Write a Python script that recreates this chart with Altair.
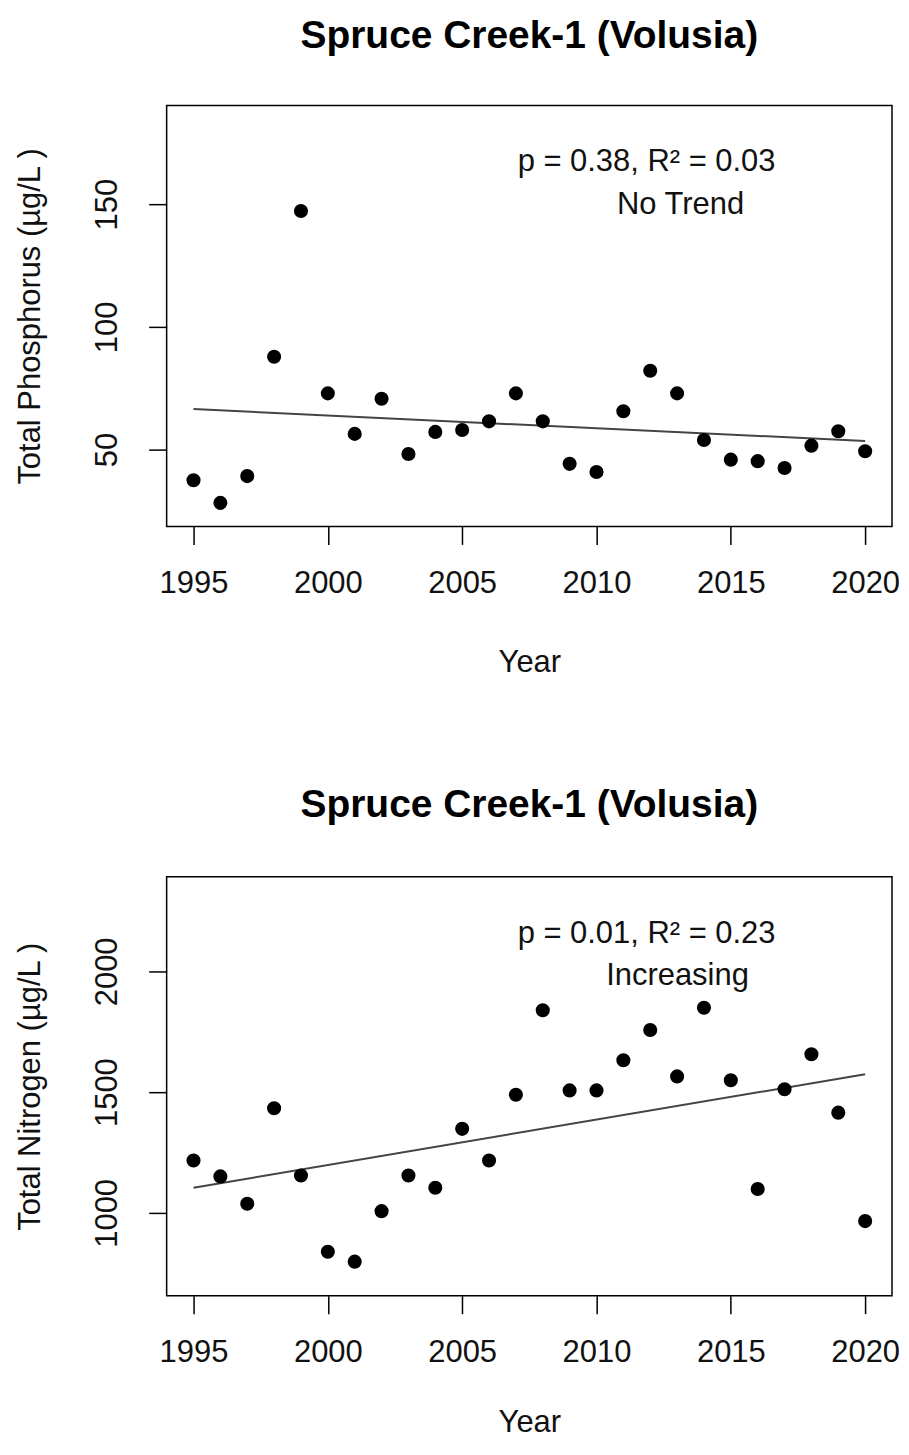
import altair as alt
import pandas as pd

FONT = "Liberation Sans"

years = list(range(1995, 2021))
tp_values = [37.5, 28.3, 39.2, 87.8, 147.2, 72.9, 56.4, 70.7, 48.2, 57.2, 58.0, 61.5, 72.9,
             61.5, 44.2, 40.9, 65.6, 82.1, 72.9, 53.9, 45.9, 45.3, 42.5, 51.6, 57.5, 49.3]
tn_values = [1217, 1151, 1038, 1433, 1155, 839, 798, 1007, 1155, 1104, 1348, 1217, 1489,
             1839, 1507, 1507, 1632, 1757, 1565, 1849, 1549, 1099, 1512, 1657, 1415, 966]
trend_years = [1995, 2020]
tp_trend = [66.5, 53.5]
tn_trend = [1104, 1574]
x_ticks = [1995, 2000, 2005, 2010, 2015, 2020]
tp_ticks = [50, 100, 150]
tn_ticks = [1000, 1500, 2000]


def panel(vals, trend, ytitle, yticks, ydomain, stat, verdict, verdict_x, h, toff, xtp):
    df = pd.DataFrame({"Year": years, "Value": vals})
    tdf = pd.DataFrame({"Year": trend_years, "Value": trend})
    x = alt.X("Year:Q",
              scale=alt.Scale(domain=[1994, 2021], nice=False, zero=False),
              axis=alt.Axis(values=x_ticks, format="d", title="Year", titlePadding=xtp))
    y = alt.Y("Value:Q",
              scale=alt.Scale(domain=ydomain, nice=False, zero=False),
              axis=alt.Axis(values=yticks, format="d", title=ytitle, labelAngle=270,
                            labelAlign="center", labelBaseline="bottom"))
    pts = alt.Chart(df).mark_circle(size=200, color="black", opacity=1).encode(x=x, y=y)
    line = alt.Chart(tdf).mark_line(color="#444444", strokeWidth=2).encode(x=x, y=y)
    one = pd.DataFrame({"t": [stat]})
    two = pd.DataFrame({"t": [verdict]})
    t1 = alt.Chart(one).mark_text(font=FONT, fontSize=31, color="#111111",
                                  align="center", baseline="middle").encode(
        text="t:N", x=alt.value(481), y=alt.value(57))
    t2 = alt.Chart(two).mark_text(font=FONT, fontSize=31, color="#111111",
                                  align="center", baseline="middle").encode(
        text="t:N", x=alt.value(verdict_x), y=alt.value(100))
    return alt.layer(line, pts, t1, t2).properties(
        width=727, height=h,
        title=alt.TitleParams("Spruce Creek-1 (Volusia)", font=FONT, fontSize=39,
                              fontWeight="bold", anchor="middle", offset=toff, color="black"))


top = panel(tp_values, tp_trend, "Total Phosphorus (µg/L )", tp_ticks, [18.7, 190.2],
            "p = 0.38, R² = 0.03", "No Trend", 515, 422, 50, 49)
bottom = panel(tn_values, tn_trend, "Total Nitrogen (µg/L )", tn_ticks, [657, 2392],
               "p = 0.01, R² = 0.23", "Increasing", 512, 420, 52, 40)

chart = alt.vconcat(top, bottom, spacing=107).properties(
    padding={"left": 6, "top": 6, "right": 0, "bottom": 0}
).configure(background="white").configure_view(
    stroke="black", strokeWidth=1.5
).configure_axis(
    grid=False, domain=False, tickColor="black", tickWidth=1.5, tickSize=18,
    labelFont=FONT, labelFontSize=31, labelColor="#111111",
    titleFont=FONT, titleFontSize=31, titleFontWeight="normal", titleColor="#111111"
).configure_axisX(
    labelPadding=24
).configure_axisY(
    labelPadding=25, titlePadding=45
)

chart.save("out.html", embed_options={"renderer": "svg", "actions": False})
